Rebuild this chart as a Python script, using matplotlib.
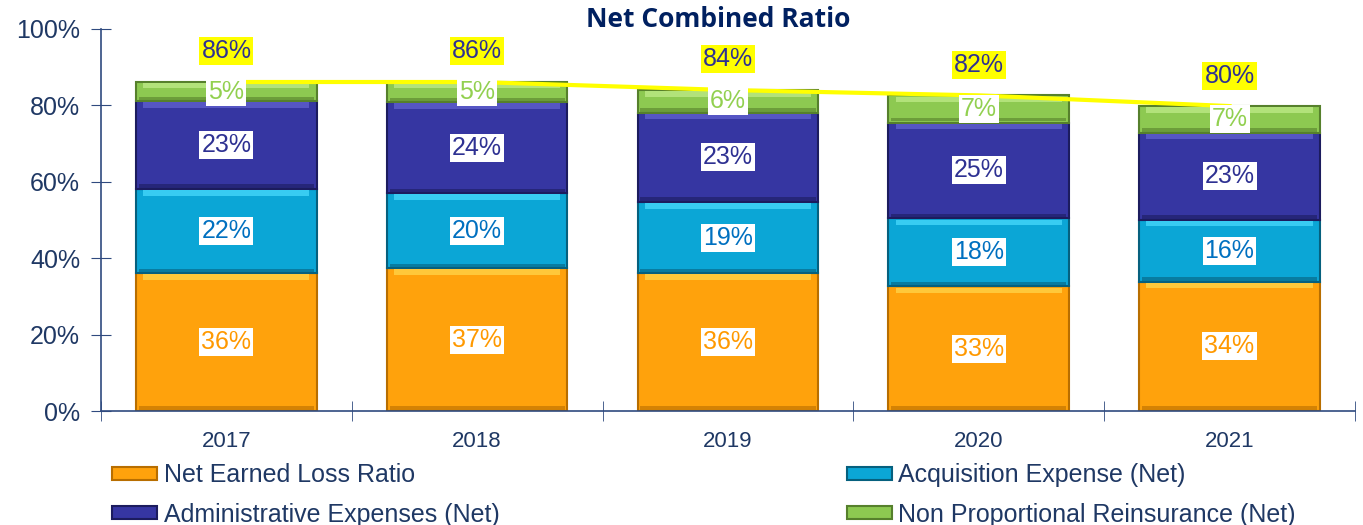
import matplotlib.pyplot as plt
import numpy as np

years = ["2017", "2018", "2019", "2020", "2021"]
loss_ratio = [36.1, 37.4, 36.1, 32.6, 33.8]
acquisition = [22.0, 19.6, 18.6, 17.8, 16.2]
admin = [23.0, 23.8, 23.3, 25.1, 22.8]
non_prop = [5.0, 5.3, 6.0, 7.1, 7.0]
combined = [86, 86, 84, 82, 80]

# name, values, face, light strip, dark strip, label colour
series = [
    ("Net Earned Loss Ratio", loss_ratio, "#FFA20C", "#FFC83A", "#B86E00", "#FF9900"),
    ("Acquisition Expense (Net)", acquisition, "#0BA6D6", "#38CCF2", "#06607E", "#0070C0"),
    ("Administrative Expenses (Net)", admin, "#3636A2", "#5656C4", "#1C1C5E", "#2E3192"),
    ("Non Proportional Reinsurance (Net)", non_prop, "#8DC951", "#B2E27A", "#56802C", "#92D050"),
]

NAVY = "#1F3864"
plt.rcParams['font.family'] = ['Liberation Sans', 'DejaVu Sans']

fig = plt.figure(figsize=(13.63, 5.25), dpi=100)
ax = fig.add_axes([0.0741, 0.217, 0.92, 0.728])

x = np.arange(len(years))
width = 0.72
bottom = np.zeros(len(years))
handles = {}
for name, vals, color, light, dark, tcolor in series:
    vals = np.array(vals)
    bars = ax.bar(x, vals, width, bottom=bottom, color=color,
                  edgecolor=dark, linewidth=1.5, zorder=2, label=name)
    handles[name] = bars
    # bevel look: light band under the top edge, dark band on the bottom edge
    ax.bar(x, 1.4, width * 0.92, bottom=bottom + vals - 1.7, color=light,
           linewidth=0, zorder=2.1)
    ax.bar(x, 0.9, width * 0.97, bottom=bottom + 0.3, color=dark,
           linewidth=0, alpha=0.6, zorder=2.1)
    for xi, b, v in zip(x, bottom, vals):
        ax.text(xi, b + v / 2, f"{v:.0f}%", ha="center", va="center",
                fontsize=18, color=tcolor, zorder=5,
                bbox=dict(boxstyle="square,pad=0.08", fc="white", ec="none"))
    bottom = bottom + vals

ax.plot(x, bottom, color="#FFFF00", lw=3, zorder=3)
for xi, t, c in zip(x, bottom, combined):
    ax.text(xi, t + 8.0, f"{c}%", ha="center", va="center", fontsize=18,
            color="#2E3192", zorder=5,
            bbox=dict(boxstyle="square,pad=0.08", fc="#FFFF00", ec="none"))

ax.set_xlim(-0.5, len(years) - 0.5)
ax.set_ylim(0, 100)
ax.set_yticks(range(0, 101, 20))
ax.set_yticklabels([f"{v}%" for v in range(0, 101, 20)])
ax.set_xticks(x)
ax.set_xticklabels(years)
ax.set_xticks(np.arange(-0.5, len(years)), minor=True)
ax.tick_params(axis="x", which="major", length=0, labelsize=16, labelcolor=NAVY, pad=14)
ax.tick_params(axis="x", which="minor", length=14, direction="inout", color="#2F4A7F")
ax.tick_params(axis="y", length=14, direction="inout", color="#2F4A7F",
               labelsize=18, labelcolor=NAVY, pad=8)
for s in ["top", "right"]:
    ax.spines[s].set_visible(False)
for s in ["left", "bottom"]:
    ax.spines[s].set_color("#2F4A7F")
    ax.spines[s].set_linewidth(1.2)

fig.text(0.527, 0.962, "Net Combined Ratio", ha="center", va="center",
         fontsize=19, fontweight="bold", color="#002060", family="Open Sans")

order = ["Net Earned Loss Ratio", "Administrative Expenses (Net)",
         "Acquisition Expense (Net)", "Non Proportional Reinsurance (Net)"]
leg = fig.legend(handles=[handles[n] for n in order], labels=order,
                 loc="lower left", bbox_to_anchor=(0.066, -0.046), ncol=2,
                 frameon=False, fontsize=18, handlelength=1.8, handleheight=0.4,
                 handletextpad=0.25, columnspacing=13.9, labelspacing=0.62)
for t in leg.get_texts():
    t.set_color(NAVY)

fig.savefig("out.png", dpi=100)
